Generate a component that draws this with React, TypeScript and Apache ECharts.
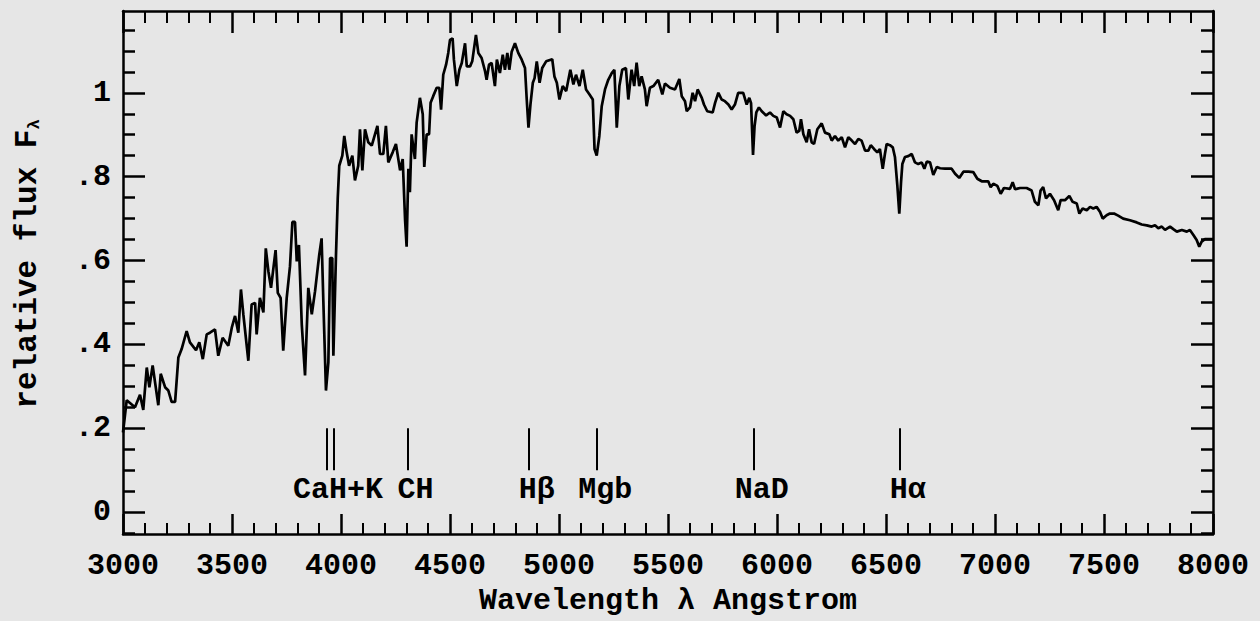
import React, { useEffect, useRef } from "react";
import * as echarts from "echarts";

// Spectrum: wavelength (Angstrom) and relative flux F_lambda
const wavelength = [
  3000, 3017, 3055, 3078, 3093, 3109, 3121, 3136, 3162, 3173, 3193, 3208, 3223, 3239, 3254, 3269,
  3292, 3307, 3335, 3350, 3366, 3384, 3399, 3422, 3437, 3457, 3483, 3499, 3514, 3529, 3541, 3552,
  3575, 3590, 3606, 3613, 3628, 3644, 3655, 3667, 3679, 3700, 3710, 3723, 3735, 3751, 3766, 3777,
  3789, 3797, 3807, 3820, 3835, 3850, 3866, 3881, 3900, 3911, 3919, 3931, 3942, 3950, 3960, 3965,
  3977, 3985, 3992, 4006, 4015, 4026, 4037, 4052, 4064, 4079, 4087, 4098, 4110, 4125, 4141, 4167,
  4179, 4194, 4206, 4217, 4237, 4252, 4271, 4283, 4294, 4301, 4309, 4316, 4324, 4339, 4347, 4362,
  4375, 4382, 4393, 4404, 4411, 4423, 4439, 4451, 4459, 4469, 4482, 4492, 4500, 4512, 4518, 4531,
  4543, 4554, 4569, 4577, 4592, 4602, 4619, 4630, 4645, 4661, 4668, 4679, 4691, 4706, 4715, 4729,
  4742, 4752, 4763, 4772, 4783, 4798, 4813, 4829, 4844, 4852, 4860, 4869, 4880, 4888, 4898, 4911,
  4923, 4941, 4969, 4979, 4990, 5002, 5017, 5033, 5052, 5066, 5078, 5094, 5109, 5124, 5140, 5155,
  5163, 5173, 5185, 5196, 5211, 5226, 5242, 5254, 5265, 5277, 5290, 5307, 5318, 5333, 5345, 5356,
  5368, 5379, 5394, 5402, 5417, 5433, 5455, 5474, 5486, 5509, 5532, 5552, 5563, 5578, 5586, 5601,
  5613, 5624, 5636, 5655, 5665, 5680, 5705, 5716, 5731, 5746, 5761, 5777, 5792, 5807, 5822, 5845,
  5861, 5873, 5881, 5890, 5897, 5905, 5917, 5930, 5950, 5968, 5983, 5999, 6014, 6029, 6044, 6060,
  6075, 6090, 6102, 6110, 6121, 6136, 6147, 6159, 6170, 6185, 6205, 6220, 6240, 6251, 6266, 6281,
  6297, 6312, 6327, 6343, 6358, 6373, 6388, 6404, 6419, 6430, 6445, 6460, 6472, 6485, 6495, 6503,
  6518, 6531, 6541, 6552, 6561, 6569, 6575, 6587, 6602, 6618, 6633, 6648, 6664, 6676, 6687, 6702,
  6717, 6733, 6748, 6771, 6801, 6817, 6836, 6855, 6878, 6900, 6919, 6939, 6969, 6980, 6992, 7011,
  7026, 7041, 7069, 7081, 7092, 7115, 7145, 7168, 7183, 7199, 7209, 7221, 7234, 7252, 7271, 7290,
  7301, 7321, 7341, 7356, 7375, 7387, 7402, 7421, 7436, 7451, 7466, 7482, 7494, 7512, 7527, 7546,
  7565, 7588, 7619, 7650, 7673, 7696, 7719, 7734, 7749, 7765, 7780, 7803, 7818, 7834, 7857, 7880,
  7894, 7910, 7925, 7937, 7948, 7963, 8000,
];

const flux = [
  0.19, 0.267, 0.25, 0.28, 0.244, 0.345, 0.298, 0.35, 0.255, 0.33, 0.298, 0.29, 0.263, 0.263, 0.369, 0.389,
  0.432, 0.405, 0.386, 0.405, 0.365, 0.424, 0.428, 0.436, 0.373, 0.416, 0.397, 0.44, 0.468, 0.428, 0.531, 0.472,
  0.361, 0.495, 0.499, 0.424, 0.511, 0.476, 0.629, 0.574, 0.535, 0.625, 0.523, 0.511, 0.385, 0.511, 0.586, 0.692,
  0.692, 0.598, 0.637, 0.448, 0.326, 0.535, 0.472, 0.527, 0.613, 0.653, 0.503, 0.29, 0.357, 0.606, 0.606, 0.373,
  0.613, 0.748, 0.826, 0.85, 0.897, 0.858, 0.826, 0.85, 0.791, 0.826, 0.913, 0.815, 0.913, 0.882, 0.874, 0.921,
  0.854, 0.854, 0.921, 0.834, 0.858, 0.878, 0.815, 0.842, 0.696, 0.633, 0.819, 0.763, 0.901, 0.842, 0.929, 0.988,
  0.949, 0.823, 0.901, 0.901, 0.976, 0.992, 1.012, 1.012, 0.96, 1.043, 1.067, 1.095, 1.126, 1.13, 1.079, 1.016,
  1.055, 1.071, 1.118, 1.063, 1.063, 1.075, 1.138, 1.095, 1.083, 1.051, 1.031, 1.067, 1.071, 1.016, 1.079, 1.047,
  1.091, 1.055, 1.095, 1.055, 1.098, 1.118, 1.095, 1.079, 1.059, 0.984, 0.917, 0.972, 1.024, 1.035, 1.075, 1.024,
  1.059, 1.075, 1.08, 1.039, 1.024, 0.984, 1.016, 1.004, 1.055, 1.02, 1.043, 1.016, 1.055, 1.008, 0.996, 0.984,
  0.866, 0.85, 0.897, 0.968, 1.008, 1.031, 1.047, 1.055, 0.917, 1.016, 1.055, 1.059, 0.984, 1.055, 1.016, 1.072,
  1.016, 1.039, 1.008, 0.968, 1.012, 1.016, 1.031, 0.996, 1.022, 1.012, 1.008, 1.033, 0.992, 0.98, 0.956, 0.965,
  1.0, 0.98, 1.008, 0.988, 0.972, 0.956, 0.953, 0.976, 1.0, 0.984, 0.98, 0.972, 0.96, 0.972, 1.0, 1.0,
  0.972, 0.988, 0.975, 0.852, 0.92, 0.953, 0.965, 0.956, 0.946, 0.953, 0.945, 0.941, 0.917, 0.956, 0.949, 0.945,
  0.937, 0.905, 0.909, 0.937, 0.901, 0.882, 0.913, 0.882, 0.878, 0.913, 0.927, 0.905, 0.901, 0.886, 0.897, 0.886,
  0.894, 0.87, 0.894, 0.886, 0.878, 0.89, 0.886, 0.862, 0.862, 0.875, 0.866, 0.858, 0.866, 0.819, 0.854, 0.878,
  0.875, 0.87, 0.847, 0.779, 0.712, 0.787, 0.83, 0.847, 0.849, 0.854, 0.834, 0.83, 0.834, 0.819, 0.836, 0.834,
  0.804, 0.823, 0.82, 0.819, 0.819, 0.807, 0.797, 0.812, 0.812, 0.811, 0.795, 0.789, 0.789, 0.775, 0.783, 0.778,
  0.759, 0.773, 0.771, 0.787, 0.77, 0.773, 0.773, 0.767, 0.74, 0.732, 0.767, 0.775, 0.748, 0.759, 0.744, 0.72,
  0.744, 0.744, 0.754, 0.74, 0.736, 0.712, 0.724, 0.72, 0.728, 0.724, 0.728, 0.716, 0.7, 0.708, 0.712, 0.712,
  0.707, 0.7, 0.696, 0.691, 0.686, 0.684, 0.681, 0.684, 0.677, 0.681, 0.673, 0.681, 0.675, 0.669, 0.673, 0.669,
  0.673, 0.661, 0.649, 0.633, 0.645, 0.651, 0.651,
];

// Spectral feature markers (Angstrom) and their labels
const featureLines = [3933, 3968, 4305, 4861, 5175, 5893, 6563];
const featureLabels = ["CaH+K", "CH", "H\u03b2", "Mgb", "NaD", "H\u03b1"];
const featureLabelAt = [3950, 4305, 4861, 5175, 5893, 6563];
const markerLow = 0.1;
const markerHigh = 0.2;
const labelLevel = 0.052;

// Axis ticks
const xMin = 3000;
const xMax = 8000;
const xStep = 500;
const yMin = -0.052;
const yMax = 1.195;
const yMajor = [0, 0.2, 0.4, 0.6, 0.8, 1];
const yMinor = [-0.05, 0.05, 0.1, 0.15, 0.25, 0.3, 0.35, 0.45, 0.5, 0.55, 0.65, 0.7, 0.75, 0.85, 0.9, 0.95, 1.05, 1.1, 1.15];

const FONT = "'Liberation Mono', 'DejaVu Sans Mono', monospace";
const INK = "#000";

const fmtY = (v: number) => {
  if (Math.abs(v) < 1e-9) return "0";
  if (Math.abs(v - 1) < 1e-9) return "1";
  return "." + Math.round(v * 10);
};

export default function App() {
  const ref = useRef<HTMLDivElement>(null);

  useEffect(() => {
    if (!ref.current) return;
    const chart = echarts.init(ref.current, undefined, { renderer: "svg" });

    const lineStyle = { color: INK, width: 2.5 };
    const textStyle = { fontFamily: FONT, fontSize: 30, fontWeight: "bold" as const, color: INK };

    const xCommon = {
      type: "value" as const,
      min: xMin,
      max: xMax,
      interval: xStep,
      splitLine: { show: false },
      axisLine: { show: true, onZero: false, lineStyle },
    };
    const yCommon = {
      type: "value" as const,
      min: yMin,
      max: yMax,
      splitLine: { show: false },
    };

    const spectrum = wavelength.map((w, i) => [w, flux[i]]);

    chart.setOption({
      animation: false,
      backgroundColor: "#e6e6e6",
      grid: { left: 123, right: 47, top: 11, bottom: 83, containLabel: false },
      xAxis: [
        {
          ...xCommon,
          position: "bottom",
          axisTick: { show: true, inside: true, length: 20, lineStyle: { color: INK, width: 2.5 } },
          minorTick: { show: true, splitNumber: 5, length: 11, lineStyle: { color: INK, width: 2 } },
          axisLabel: { ...textStyle, margin: 17, formatter: (v: number) => String(v) },
          name: "Wavelength \u03bb Angstrom",
          nameLocation: "middle",
          nameGap: 52,
          nameTextStyle: textStyle,
        },
        {
          ...xCommon,
          position: "top",
          axisTick: { show: true, inside: true, length: 22, lineStyle: { color: INK, width: 2.5 } },
          minorTick: { show: true, splitNumber: 5, length: 12, lineStyle: { color: INK, width: 2 } },
          axisLabel: { show: false },
        },
      ],
      yAxis: [
        {
          ...yCommon,
          position: "left",
          axisLine: { show: true, onZero: false, lineStyle },
          axisTick: { show: true, inside: true, length: 22, customValues: yMajor, lineStyle: { color: INK, width: 2.5 } },
          axisLabel: { ...textStyle, customValues: yMajor, formatter: fmtY, margin: 12 },
        },
        {
          ...yCommon,
          position: "left",
          axisLine: { show: false },
          axisTick: { show: true, inside: true, length: 12, customValues: yMinor, lineStyle: { color: INK, width: 2.5 } },
          axisLabel: { show: false },
        },
        {
          ...yCommon,
          position: "right",
          axisLine: { show: true, onZero: false, lineStyle },
          axisTick: { show: true, inside: true, length: 22, customValues: yMajor, lineStyle: { color: INK, width: 2.5 } },
          axisLabel: { show: false },
        },
        {
          ...yCommon,
          position: "right",
          axisLine: { show: false },
          axisTick: { show: true, inside: true, length: 12, customValues: yMinor, lineStyle: { color: INK, width: 2.5 } },
          axisLabel: { show: false },
        },
      ],
      graphic: [
        {
          type: "text",
          x: 27,
          y: 264,
          rotation: Math.PI / 2,
          style: {
            text: "{a|relative flux F}{s|\u03bb}",
            align: "center",
            verticalAlign: "middle",
            rich: {
              a: { fontFamily: FONT, fontSize: 31, fontWeight: "bold", fill: INK },
              s: { fontFamily: FONT, fontSize: 17, fontWeight: "bold", fill: INK, verticalAlign: "bottom" },
            },
          },
        },
      ],
      series: [
        {
          type: "line",
          xAxisIndex: 0,
          yAxisIndex: 0,
          data: spectrum,
          showSymbol: false,
          symbol: "none",
          lineStyle: { color: INK, width: 2.7 },
          silent: true,
          markLine: {
            silent: true,
            symbol: "none",
            label: { show: false },
            lineStyle: { color: INK, width: 2, type: "solid" },
            data: featureLines.map((w) => [{ coord: [w, markerLow] }, { coord: [w, markerHigh] }]),
          },
        },
        {
          type: "scatter",
          xAxisIndex: 0,
          yAxisIndex: 0,
          symbolSize: 0,
          silent: true,
          itemStyle: { opacity: 1 },
          data: featureLabelAt.map((w, i) => ({ name: featureLabels[i], value: [w, labelLevel] })),
          label: {
            show: true,
            position: "inside",
            offset: [8, 0],
            formatter: "{b}",
            ...textStyle,
          },
        },
      ],
    });

    return () => chart.dispose();
  }, []);

  return (
    <div
      ref={ref}
      style={{ position: "fixed", left: 0, top: 0, width: 1260, height: 621 }}
    />
  );
}
